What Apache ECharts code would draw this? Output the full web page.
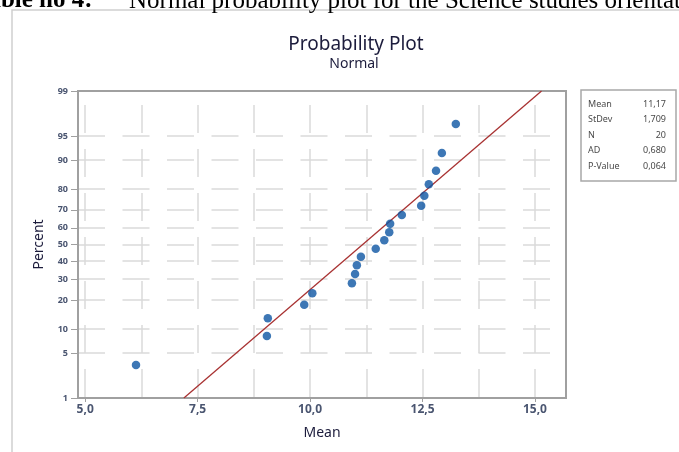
<!DOCTYPE html>
<html>
<head>
<meta charset="utf-8">
<script src="https://cdn.jsdelivr.net/npm/echarts@6/dist/echarts.min.js"></script>
<style>
  html, body { margin: 0; padding: 0; background: #fff; }
  #chart { width: 679px; height: 452px; }
</style>
</head>
<body>
<div id="chart"></div>
<script>
// data (Mean values, sorted) and their plotted percents
var meanValues = [6.13, 9.04, 9.06, 9.87, 10.05, 10.93, 11.00, 11.04, 11.13, 11.46,
                  11.65, 11.76, 11.78, 12.04, 12.47, 12.54, 12.64, 12.80, 12.93, 13.24];
var percents = [3.4, 8.3, 13.2, 18.1, 23.0, 27.9, 32.8, 37.7, 42.6, 47.5,
                52.5, 57.4, 62.3, 67.2, 72.1, 77.0, 81.9, 86.8, 91.7, 96.6];
var percentTicks = [1, 5, 10, 20, 30, 40, 50, 60, 70, 80, 90, 95, 99];
var percentGrid = [5, 10, 20, 30, 40, 50, 60, 70, 80, 90, 95];
var meanTicks = [5, 7.5, 10, 12.5, 15];
var meanGrid = [5, 6.25, 7.5, 8.75, 10, 11.25, 12.5, 13.75, 15];
var statNames = ['Mean', 'StDev', 'N', 'AD', 'P-Value'];
var statValues = ['11,17', '1,709', '20', '0,680', '0,064'];
var fitMean = 11.17, fitSd = 1.709;

// inverse normal cdf (probability scale of the y axis)
function probit(p) {
  var a = [-39.6968302866538, 220.946098424521, -275.928510446969, 138.357751867269, -30.6647980661472, 2.50662827745924];
  var b = [-54.4760987982241, 161.585836858041, -155.698979859887, 66.8013118877197, -13.2806815528857];
  var c = [-0.00778489400243029, -0.322396458041136, -2.40075827716184, -2.54973253934373, 4.37466414146497, 2.93816398269878];
  var d = [0.00778469570904146, 0.32246712907004, 2.445134137143, 3.75440866190742];
  var pl = 0.02425, q, r;
  if (p < pl) {
    q = Math.sqrt(-2 * Math.log(p));
    return (((((c[0]*q+c[1])*q+c[2])*q+c[3])*q+c[4])*q+c[5]) / ((((d[0]*q+d[1])*q+d[2])*q+d[3])*q+1);
  }
  if (p > 1 - pl) {
    q = Math.sqrt(-2 * Math.log(1 - p));
    return -(((((c[0]*q+c[1])*q+c[2])*q+c[3])*q+c[4])*q+c[5]) / ((((d[0]*q+d[1])*q+d[2])*q+d[3])*q+1);
  }
  q = p - 0.5; r = q * q;
  return (((((a[0]*r+a[1])*r+a[2])*r+a[3])*r+a[4])*r+a[5])*q / (((((b[0]*r+b[1])*r+b[2])*r+b[3])*r+b[4])*r+1);
}

var zTicks = percentTicks.map(function (p) { return probit(p / 100); });
var zGrid = percentGrid.map(function (p) { return probit(p / 100); });
var zMin = probit(0.01), zMax = probit(0.99);
var points = meanValues.map(function (v, i) { return [v, probit(percents[i] / 100)]; });
var fitLine = [[fitMean + fitSd * zMin, zMin], [fitMean + fitSd * zMax, zMax]];

function labelOfZ(z) {
  for (var i = 0; i < zTicks.length; i++) {
    if (Math.abs(zTicks[i] - z) < 1e-6) return String(percentTicks[i]);
  }
  return '';
}

var myChart = echarts.init(document.getElementById('chart'));

var statTexts = [];
statNames.forEach(function (n, i) {
  statTexts.push({ type: 'text', x: 588, y: 104 + i * 15.5,
    style: { text: n, font: '9px "Noto Sans"', fill: '#4a4a4a', verticalAlign: 'middle' } });
  statTexts.push({ type: 'text', x: 666, y: 104 + i * 15.5,
    style: { text: statValues[i], font: '9px "Noto Sans"', fill: '#4a4a4a', align: 'right', verticalAlign: 'middle' } });
});

option = {
  animation: false,
  backgroundColor: '#fff',
  grid: {
    left: 78, right: 113, top: 91, bottom: 54,
    show: true, borderColor: '#a0a0a0', borderWidth: 2
  },
  title: [
    { text: 'Probability Plot', left: 351, top: 30, textAlign: 'center',
      textStyle: { fontFamily: 'Noto Sans', fontSize: 19, fontWeight: 'normal', color: '#1c1c3c' } },
    { text: 'Normal', left: 349, top: 52, textAlign: 'center',
      textStyle: { fontFamily: 'Noto Sans', fontSize: 14, fontWeight: 'normal', color: '#1c1c3c' } }
  ],
  xAxis: [{
    type: 'value', min: 4.84, max: 15.69, position: 'bottom',
    name: 'Mean', nameLocation: 'middle', nameGap: 28,
    nameTextStyle: { fontFamily: 'Noto Sans', fontSize: 14, color: '#1c1c3c' },
    axisLine: { show: true, onZero: false, lineStyle: { color: '#a0a0a0', width: 2 } },
    axisTick: { show: true, length: 4, customValues: meanTicks, lineStyle: { color: '#a0a0a0' } },
    axisLabel: { customValues: meanTicks, margin: 6, fontFamily: 'Noto Sans', fontSize: 12, fontWeight: 'bold', color: '#4a5570',
      formatter: function (v) { return v.toFixed(1).replace('.', ','); } },
    splitLine: { show: false }
  }, {
    type: 'value', min: 4.84, max: 15.69, position: 'top',
    axisLine: { show: false, onZero: false }, axisLabel: { show: false },
    axisTick: { show: false, customValues: meanGrid },
    splitLine: { show: true, lineStyle: { color: '#dadada', width: 1.5, type: [28, 16], dashOffset: 30 } }
  }],
  yAxis: [{
    type: 'value', min: zMin, max: zMax, position: 'left',
    name: 'Percent', nameLocation: 'middle', nameGap: 32, nameRotate: 90,
    nameTextStyle: { fontFamily: 'Noto Sans', fontSize: 14, color: '#1c1c3c' },
    axisLine: { show: true, onZero: false, lineStyle: { color: '#a0a0a0', width: 2 } },
    axisTick: { show: true, length: 7, customValues: zTicks, lineStyle: { color: '#a0a0a0' } },
    axisLabel: { customValues: zTicks, margin: 10, fontFamily: 'Noto Sans', fontSize: 9, fontWeight: 'bold', color: '#4a5570',
      formatter: labelOfZ },
    splitLine: { show: false }
  }, {
    type: 'value', min: zMin, max: zMax, position: 'right',
    axisLine: { show: false, onZero: false }, axisLabel: { show: false },
    axisTick: { show: false, customValues: zGrid },
    splitLine: { show: true, lineStyle: { color: '#dadada', width: 1.5, type: [27, 17.5] } }
  }],
  graphic: [
    { type: 'rect', shape: { x: 12, y: 10, width: 720, height: 480 }, style: { fill: 'none', stroke: '#cfcfcf', lineWidth: 1.5 }, z: -1 },
    { type: 'text', x: -26, y: 1, style: { text: 'Table no 4:', font: 'bold 25px "Liberation Serif"', fill: '#000', verticalAlign: 'middle' } },
    { type: 'text', x: 129, y: 1, style: { text: 'Normal probability plot for the Science studies orientation', font: '25px "Liberation Serif"', fill: '#000', verticalAlign: 'middle' } },
    { type: 'rect', shape: { x: 581, y: 90, width: 95, height: 91 }, style: { fill: '#fff', stroke: '#a8a8a8', lineWidth: 1.5 } }
  ].concat(statTexts),
  series: [{
    type: 'line', data: fitLine, xAxisIndex: 0, yAxisIndex: 0, symbol: 'none',
    lineStyle: { color: '#a83232', width: 1.3 }, z: 2
  }, {
    type: 'scatter', data: points, xAxisIndex: 0, yAxisIndex: 0, symbol: 'circle', symbolSize: 8.5,
    itemStyle: { color: '#0d55a3' }, z: 3
  }]
};

myChart.setOption(option);
</script>
</body>
</html>
